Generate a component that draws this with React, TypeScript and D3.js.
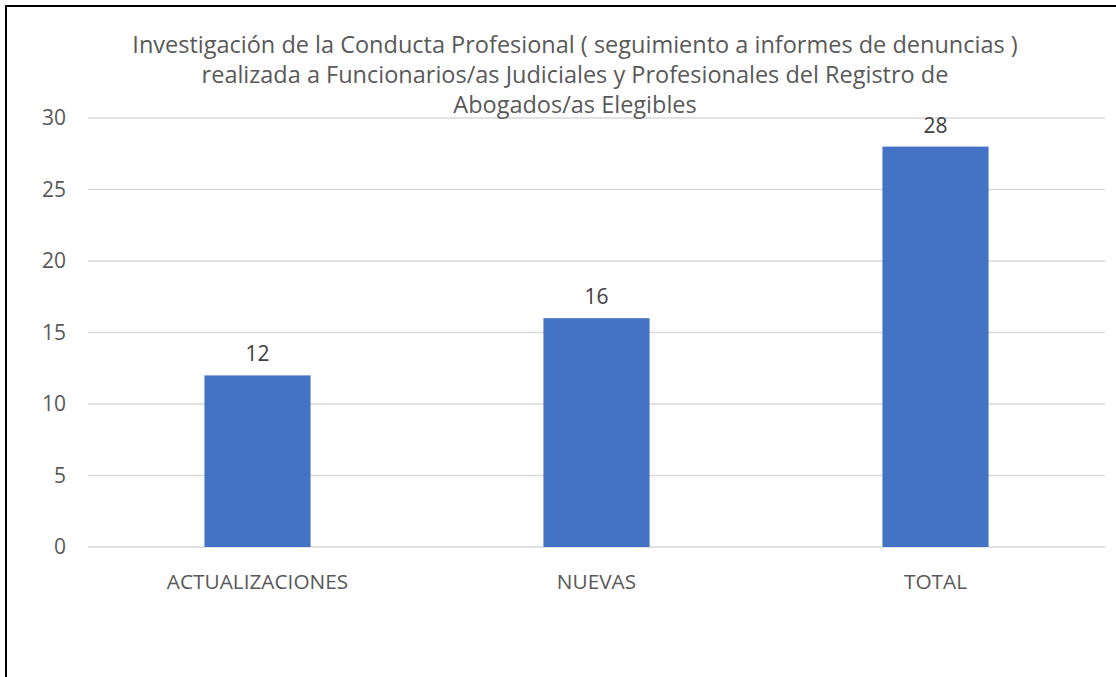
import React, { useEffect, useRef } from 'react';
import * as d3 from 'd3';

const categories = ['ACTUALIZACIONES', 'NUEVAS', 'TOTAL'];
const values = [12, 16, 28];
const yTicks = [0, 5, 10, 15, 20, 25, 30];
const titleLines = [
  'Investigación de la Conducta Profesional ( seguimiento a informes de denuncias )',
  'realizada a Funcionarios/as Judiciales y Profesionales del Registro de',
  'Abogados/as Elegibles',
];

const W = 1116;
const H = 677;
const FONT = '"Open Sans", Calibri, sans-serif';
const TEXT = '#595959';

const App = () => {
  const svgRef = useRef<SVGSVGElement>(null);

  useEffect(() => {
    const svg = d3.select(svgRef.current);
    svg.selectAll('*').remove();

    const plot = { left: 88, right: 1105, top: 118, bottom: 547 };

    // frame around the chart (goes past the right/bottom edge)
    svg.append('rect')
      .attr('x', 6).attr('y', 6)
      .attr('width', W + 20).attr('height', H + 20)
      .attr('fill', 'white')
      .attr('stroke', 'black')
      .attr('stroke-width', 2);

    const x = d3.scaleBand<string>()
      .domain(categories)
      .range([plot.left, plot.right])
      .padding(0);

    const y = d3.scaleLinear()
      .domain([0, 30])
      .range([plot.bottom, plot.top]);

    // gridlines
    svg.append('g')
      .selectAll('line')
      .data(yTicks)
      .enter()
      .append('line')
      .attr('x1', plot.left)
      .attr('x2', plot.right)
      .attr('y1', d => y(d))
      .attr('y2', d => y(d))
      .attr('stroke', '#d9d9d9')
      .attr('stroke-width', 1.5);

    // y tick labels
    svg.append('g')
      .selectAll('text')
      .data(yTicks)
      .enter()
      .append('text')
      .attr('x', 66)
      .attr('y', d => y(d))
      .attr('dy', '0.35em')
      .attr('text-anchor', 'end')
      .attr('font-family', FONT)
      .attr('font-size', 21)
      .attr('fill', TEXT)
      .text(d => d);

    const barW = x.bandwidth() * 0.313;

    svg.append('g')
      .selectAll('rect')
      .data(values)
      .enter()
      .append('rect')
      .attr('x', (d, i) => x(categories[i])! + x.bandwidth() / 2 - barW / 2)
      .attr('y', d => y(d))
      .attr('width', barW)
      .attr('height', d => y(0) - y(d))
      .attr('fill', '#4472c4');

    // data labels
    svg.append('g')
      .selectAll('text')
      .data(values)
      .enter()
      .append('text')
      .attr('x', (d, i) => x(categories[i])! + x.bandwidth() / 2)
      .attr('y', d => y(d) - 14)
      .attr('text-anchor', 'middle')
      .attr('font-family', FONT)
      .attr('font-size', 21)
      .attr('fill', '#404040')
      .text(d => d);

    // category labels
    svg.append('g')
      .selectAll('text')
      .data(categories)
      .enter()
      .append('text')
      .attr('x', d => x(d)! + x.bandwidth() / 2)
      .attr('y', 589)
      .attr('text-anchor', 'middle')
      .attr('font-family', FONT)
      .attr('font-size', 20.8)
      .attr('fill', TEXT)
      .text(d => d);

    // title
    svg.append('g')
      .selectAll('text')
      .data(titleLines)
      .enter()
      .append('text')
      .attr('x', 575)
      .attr('y', (d, i) => 53 + i * 30)
      .attr('text-anchor', 'middle')
      .attr('font-family', FONT)
      .attr('font-size', 23.5)
      .attr('fill', TEXT)
      .text(d => d);
  }, []);

  return (
    <svg
      ref={svgRef}
      width={W}
      height={H}
      style={{ position: 'absolute', left: 0, top: 0, background: 'white' }}
    />
  );
};

export default App;
